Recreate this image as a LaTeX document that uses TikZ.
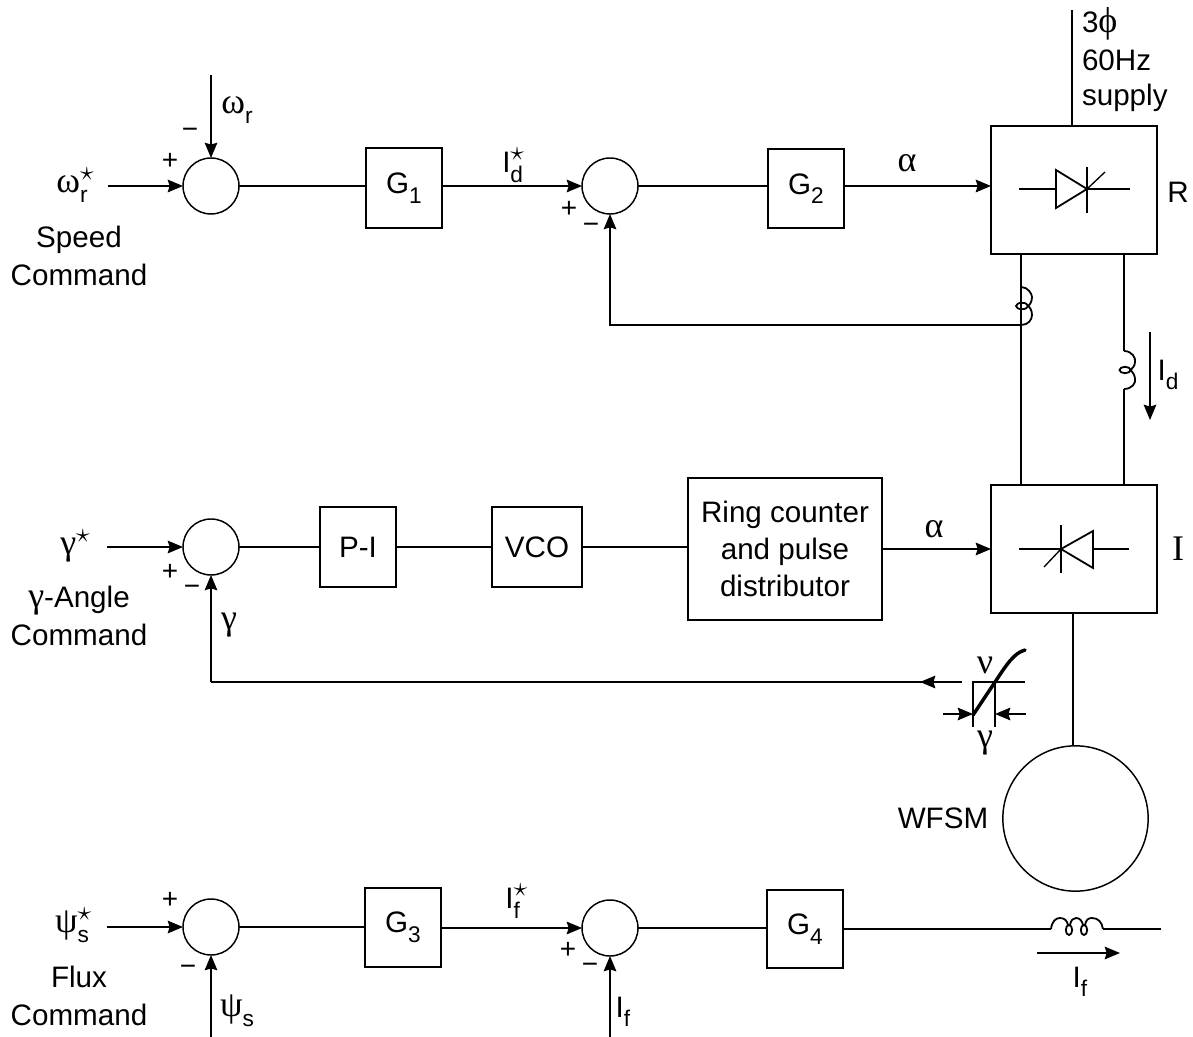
\documentclass[tikz,border=0pt]{standalone}
\usepackage{fontspec}
\setmainfont{Liberation Sans}
\newfontfamily\gk{Liberation Serif}
\usetikzlibrary{arrows.meta}
\newcommand{\gr}[1]{{\fontsize{27}{28}\selectfont\gk #1}}
\newcommand{\subs}[1]{\raisebox{-.32em}{\fontsize{17}{17}\selectfont #1}}
\newcommand{\SupSub}[2]{\rlap{\raisebox{.42em}{\fontsize{21}{21}\selectfont$\star$}}\raisebox{-.34em}{\fontsize{17}{17}\selectfont #2}}
\tikzset{
  line/.style={line width=1.35pt},
  arr/.style={line width=1.2pt,-{Stealth[length=11.5pt,width=9.5pt,inset=1.5pt]}},
  blockbox/.style={draw,line width=1.35pt,inner sep=0pt,outer sep=0pt,align=center},
  sumj/.style={draw,circle,line width=1.1pt,minimum size=42pt,inner sep=0pt,outer sep=0pt},
  txt/.style={inner sep=0pt,outer sep=0pt,align=center},
  sgn/.style={inner sep=0pt,outer sep=0pt,font=\fontsize{21}{21}\selectfont},
  every node/.append style={font=\fontsize{22.2}{28}\selectfont}
}
\begin{document}
\begin{tikzpicture}[x=.75pt,y=-.75pt]
\useasboundingbox (0,0) rectangle (1193,1037);
% --- row 1
\node[sumj] (s1) at (211,186) {};
\node[sumj] (s2) at (610,186) {};
\node[blockbox,minimum width=57pt,minimum height=60pt] (g1) at (404,188) {G\subs{1}};
\node[blockbox,minimum width=57pt,minimum height=59.5pt] (g2) at (806,188.5) {G\subs{2}};
\node[blockbox,minimum width=124.5pt,minimum height=96pt] (rb) at (1074,190) {};
\coordinate (w1) at (108,186);
\coordinate (w2) at (211,75);
\coordinate (sup) at (1072,10);
\draw[arr] (w1) -- (s1.west);
\draw[arr] (w2) -- (s1.north);
\draw[line] (s1.east) -- (s1.east -| g1.west);
\draw[arr] (s2.west -| g1.east) -- (s2.west);
\draw[line] (s2.east) -- (s2.east -| g2.west);
\draw[arr] (s2.east -| g2.east) -- (s2.east -| rb.west);
\draw[line] (sup) -- (sup |- rb.north);
% thyristor R
\coordinate (ra) at (1019,189);
\coordinate (rk) at (1087,189);
\coordinate (rc) at (1130,189);
\draw[line] (ra) -- (1056,189);
\draw[line] (1056,170) -- (rk) -- (1056,208) -- cycle;
\draw[line] (rk) -- (rc);
\draw[line] (1087,167) -- (1087,213);
\draw[line,line width=1pt] (rk) -- (1105,172);
% --- row 2
\node[sumj] (s3) at (211,547) {};
\node[blockbox,minimum width=57pt,minimum height=60pt] (pi) at (358,547) {P-I};
\node[blockbox,minimum width=67.5pt,minimum height=60pt] (vco) at (537,547) {VCO};
\node[blockbox,minimum width=145.5pt,minimum height=106.5pt] (ring) at (785,549) {Ring counter\\and pulse\\distributor};
\node[blockbox,minimum width=124.5pt,minimum height=96pt] (ib) at (1074,549) {};
\coordinate (w3) at (107,547);
\draw[arr] (w3) -- (s3.west);
\draw[line] (s3.east) -- (pi.west);
\draw[line] (pi.east) -- (vco.west);
\draw[line] (vco.east) -- (vco.east -| ring.west);
\draw[arr] (ring.east) -- (ib.west);
% thyristor I
\coordinate (ik) at (1061,549);
\draw[line] (1019,549) -- (ik);
\draw[line] (1093,531) -- (ik) -- (1093,568) -- cycle;
\draw[line] (1093,549) -- (1129,549);
\draw[line] (1061,525) -- (1061,573);
\draw[line,line width=1pt] (ik) -- (1044,567);
% DC link
\coordinate (ctt) at (1021,287);
\coordinate (ctb) at (1021,325);
\coordinate (lt) at (1124,351);
\coordinate (lb) at (1124,389);
\draw[line] (ctt |- rb.south) -- (ctt |- ib.north);
\draw[line] (lt |- rb.south) -- (lt);
\draw[line] (lb) -- (lb |- ib.north);
\draw[line] (lt) .. controls (1132,351) and (1136,358) .. (1135,362) .. controls (1135,366) and (1132,369) .. (1130,370);
\draw[line] (1125,370) ellipse [x radius=5.5,y radius=3.2];
\draw[line] (1130,370) .. controls (1132,371) and (1135,375) .. (1135,379) .. controls (1136,383) and (1132,389) .. (lb);
\draw[line] (ctt) .. controls (1028,287) and (1032,294) .. (1032,297) .. controls (1032,301) and (1030,305) .. (1028,306);
\draw[line] (1022,306) ellipse [x radius=6,y radius=3.2];
\draw[line] (1028,306) .. controls (1030,307) and (1032,311) .. (1032,315) .. controls (1032,320) and (1028,325) .. (ctb);
\draw[arr] (ctb) -- (ctb -| s2.south) -- (s2.south);
\coordinate (idt) at (1150,332);
\coordinate (idb) at (1150,420);
\draw[arr] (idt) -- (idb);
% motor
\node[draw,circle,line width=1.1pt,minimum size=109pt,inner sep=0pt,outer sep=0pt] (m) at (1075.5,818.5) {};
\draw[line] (1073,745) -- (1073,613);
% nonlinearity
\coordinate (nl) at (973,682);
\coordinate (nr) at (995,682);
\coordinate (nfb) at (962,682);
\draw[line] (nl |- 0,727) -- (nl) -- (1025,682);
\draw[line] (nr) -- (nr |- 0,727);
\draw[line width=2.6pt,line cap=round] (973,715) -- (nr) .. controls (1007,664) and (1014,653) .. (1025,650);
\draw[arr] (943,714) -- (973,714);
\draw[arr] (1026,714) -- (995,714);
\draw[line] (nfb) -- (s3.south |- nfb);
\draw[arr] (nfb) -- (920,682);
\draw[arr] (s3.south |- nfb) -- (s3.south);
% --- row 3
\node[sumj] (s4) at (211,927) {};
\node[sumj] (s5) at (610,928) {};
\node[blockbox,minimum width=57pt,minimum height=59.5pt] (g3) at (403,927.5) {G\subs{3}};
\node[blockbox,minimum width=57pt,minimum height=59pt] (g4) at (805,929) {G\subs{4}};
\coordinate (w4) at (107,927);
\coordinate (w5) at (211,1037);
\coordinate (w6) at (610,1037);
\draw[arr] (w4) -- (s4.west);
\draw[arr] (w5) -- (s4.south);
\draw[arr] (w6) -- (s5.south);
\draw[line] (s4.east) -- (s4.east -| g3.west);
\draw[arr] (s5.west -| g3.east) -- (s5.west);
\draw[line] (s5.east) -- (s5.east -| g4.west);
\coordinate (fa) at (1051,929);
\coordinate (fb) at (1103,929);
\coordinate (fc) at (1161,929);
\draw[line] (fa -| g4.east) -- (fa);
\draw[line] (fb) -- (fc);
\draw[line] (fa) .. controls (1052,921) and (1056,918) .. (1060,918) .. controls (1065,918) and (1067,921) .. (1068,925);
\draw[line] (1069,930) ellipse [x radius=3.2,y radius=5];
\draw[line] (1070,925) .. controls (1071,920) and (1073,918) .. (1076,918) .. controls (1080,918) and (1082,921) .. (1083,925);
\draw[line] (1084,930) ellipse [x radius=3.2,y radius=5];
\draw[line] (1085,925) .. controls (1086,920) and (1088,918) .. (1092,918) .. controls (1098,918) and (1102,922) .. (fb);
\draw[arr] (1037,953) -- (1120,953);
% --- labels
\node[txt] (t1) at (76,185) {\gr{ω}\SupSub{}{r}\hspace{6pt}};
\node[txt] (t2) at (237,110) {\gr{ω}\subs{r}};
\node[sgn] (p1) at (170,161) {+};
\node[sgn] (m1) at (190,133) {−};
\node[txt] (t3) at (79,256) {Speed\\Command};
\node[txt] (t4) at (516,165) {I\SupSub{}{d}\hspace{5pt}};
\node[sgn] (p2) at (569,209) {+};
\node[sgn] (m2) at (591,228) {−};
\node[txt] (t5) at (907,163) {\gr{α}};
\node[txt] (t6) at (1178,192) {R};
\node[txt,anchor=west] (t7) at (1082,24) {3\gr{ϕ}};
\node[txt,anchor=west] (t8) at (1082,60) {60Hz};
\node[txt,anchor=west] (t9) at (1082,98) {supply};
\node[txt] (t10) at (1168,375) {I\subs{d}};
\node[txt] (t11) at (75,546) {\gr{γ}\raisebox{.42em}{\fontsize{21}{21}\selectfont$\star$}};
\node[sgn] (p3) at (170,572) {+};
\node[sgn] (m3) at (192,590) {−};
\node[txt] (t12) at (79,616) {\gr{γ}-Angle\\Command};
\node[txt] (t13) at (229,625) {\gr{γ}};
\node[txt] (t14) at (934,529) {\gr{α}};
\node[txt] (t15) at (1178,549) {\gr{I}};
\node[txt] (t16) at (985,665) {\gr{ν}};
\node[txt] (t17) at (985,743) {\gr{γ}};
\node[txt] (t18) at (943,818) {WFSM};
\node[txt] (t19) at (76,925) {\gr{ψ}\SupSub{}{s}\hspace{6pt}};
\node[sgn] (p4) at (170,900) {+};
\node[sgn] (m4) at (188,970) {−};
\node[txt] (t20) at (79,996) {Flux\\Command};
\node[txt] (t21) at (237,1011) {\gr{ψ}\subs{s}};
\node[txt] (t22) at (516,901) {I\SupSub{}{f}\hspace{5pt}};
\node[sgn] (p5) at (568,950) {+};
\node[sgn] (m5) at (590,968) {−};
\node[txt] (t23) at (623,1012) {I\subs{f}};
\node[txt] (t24) at (1080,982) {I\subs{f}};
\end{tikzpicture}
\end{document}
